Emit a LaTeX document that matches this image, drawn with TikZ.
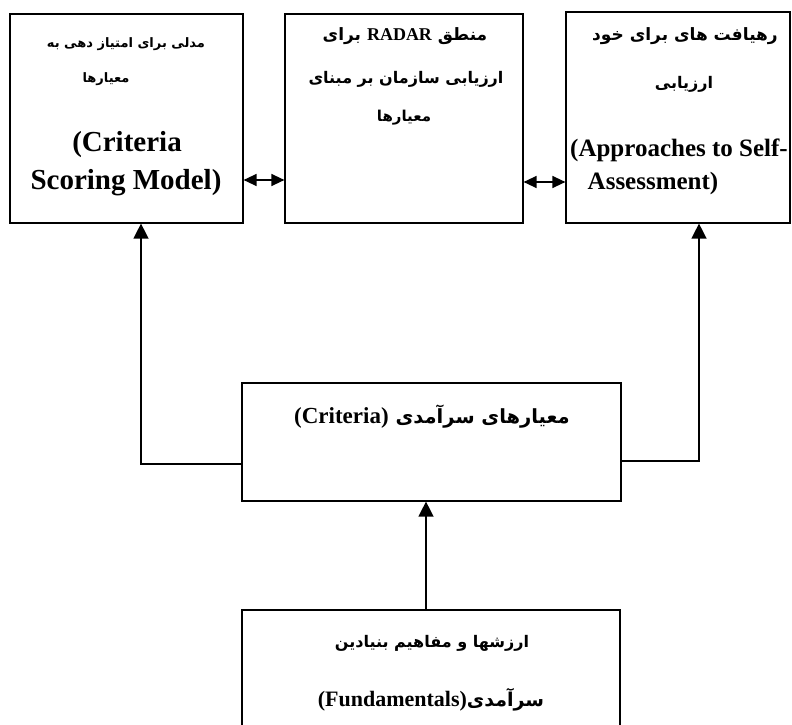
\documentclass[tikz,border=0pt]{standalone}
\usepackage{fontspec}
\setmainfont{Liberation Serif}
\newfontfamily\fa[Script=Arabic]{DejaVu Sans}
\newfontfamily\en{Liberation Serif}
\TeXXeTstate=1
\usetikzlibrary{arrows.meta}
\newcommand\fasize[1]{\fa\bfseries\fontsize{#1}{#1}\selectfont}
\newcommand\ensize[1]{\en\bfseries\fontsize{#1}{#1}\selectfont}
\tikzset{
  box/.style={draw, line width=1.2pt, rectangle, inner sep=0pt},
  txt/.style={inner sep=0pt},
  link/.style={line width=1.4pt, -{Triangle[length=15pt,width=15pt]}},
  twoway/.style={line width=1.3pt, {Triangle[length=13pt,width=12pt]}-{Triangle[length=13pt,width=12pt]}}
}
\begin{document}
\begin{tikzpicture}[x=1pt,y=-1pt]
\useasboundingbox (0,0) rectangle (792,725);
\clip (0,0) rectangle (792,725);

% boxes
\node[box, minimum width=233pt, minimum height=209pt] (scoring) at (126.5,118.5) {};
\node[box, minimum width=238pt, minimum height=209pt] (radar) at (404,118.5) {};
\node[box, minimum width=224pt, minimum height=211pt] (approach) at (678,117.5) {};
\node[box, minimum width=379pt, minimum height=118pt] (criteria) at (431.5,442) {};
\node[box, minimum width=378pt, minimum height=130pt] (fund) at (431,675) {};

% texts of the scoring model box
\node[txt, font=\fasize{13}] (s1) at (126,44) {\beginR مدلی برای امتیاز دهی به\endR};
\node[txt, font=\fasize{13}] (s2) at (106,79) {\beginR معیارها\endR};
\node[txt, font=\ensize{29}] (s3) at (127,145) {(Criteria};
\node[txt, font=\ensize{29}] (s4) at (126,183) {Scoring Model)};

% texts of the RADAR box
\node[txt, font=\fasize{17}] (r1) at (405,36) {\beginR منطق \beginL{\ensize{18}RADAR}\endL{} برای\endR};
\node[txt, font=\fasize{16}] (r2) at (406,79) {\beginR ارزیابی سازمان بر مبنای\endR};
\node[txt, font=\fasize{15}] (r3) at (404,118) {\beginR معیارها\endR};

% texts of the approaches box
\node[txt, font=\fasize{17}] (a1) at (685,36) {\beginR رهیافت های برای خود\endR};
\node[txt, font=\fasize{16}] (a2) at (684,84) {\beginR ارزیابی\endR};
\node[txt, font=\ensize{25}] (a3) at (679,150) {(Approaches to Self-};
\node[txt, font=\ensize{25}] (a4) at (653,183) {Assessment)};

% criteria and fundamentals texts
\node[txt, font=\fasize{19.5}] (c1) at (432,417) {\beginR معیارهای سرآمدی \beginL{\ensize{23}(Criteria)}\endL\endR};
\node[txt, font=\fasize{16}] (f1) at (432,643) {\beginR ارزشها و مفاهیم بنیادین\endR};
\node[txt, font=\fasize{19}] (f2) at (431,700) {\beginR سرآمدی\beginL{\ensize{22}(Fundamentals)}\endL\endR};

% connectors
\draw[twoway] (scoring.east |- 0,180) -- (radar.west |- 0,180);
\draw[twoway] (radar.east |- 0,182) -- (approach.west |- 0,182);
\draw[link] (criteria.west |- 0,464) -| (scoring.south -| 141,0);
\draw[link] (criteria.east |- 0,461) -| (approach.south -| 699,0);
\draw[link] (fund.north -| 426,0) -- (criteria.south -| 426,0);
\end{tikzpicture}
\end{document}
